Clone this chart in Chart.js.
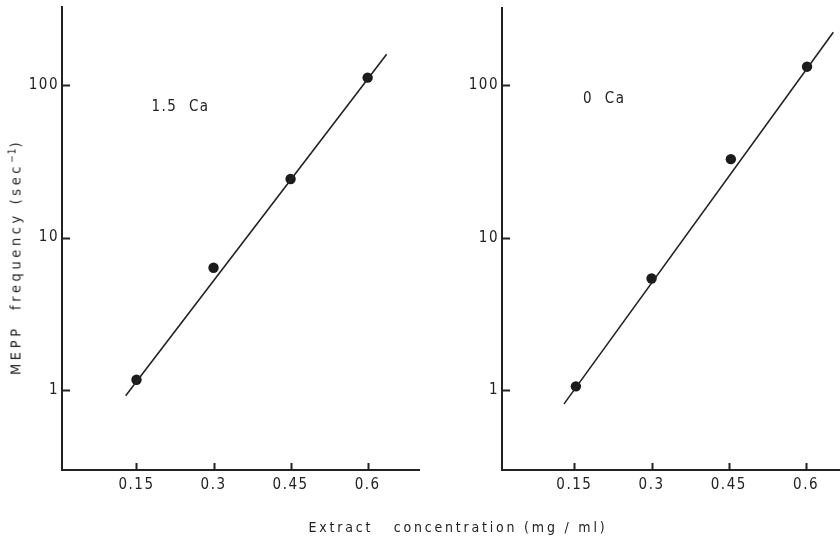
<!DOCTYPE html>
<html><head><meta charset="utf-8">
<script src="https://cdn.jsdelivr.net/npm/chart.js@4.4.1/dist/chart.umd.min.js"></script>
<style>
html,body{margin:0;padding:0;background:#fff;}
#wrap{position:relative;width:840px;height:538px;overflow:hidden;background:#fff;}
.panel{position:absolute;top:0;width:420px;height:538px;}
.ttl{position:absolute;white-space:pre;font-family:'DejaVu Sans Condensed','DejaVu Sans',sans-serif;font-size:14px;color:#222;}
#ytitle{left:14.5px;top:257px;transform:translate(-50%,-50%) rotate(-90deg);letter-spacing:3.6px;font-size:14.5px;}
#xtitle{left:458px;top:527px;transform:translate(-50%,-50%);letter-spacing:2.8px;}
sup{font-size:10px;vertical-align:5px;letter-spacing:1px;}
</style>
</head>
<body>
<div id="wrap">
  <div class="panel" style="left:0"><canvas id="c1" width="420" height="538"></canvas></div>
  <div class="panel" style="left:420px"><canvas id="c2" width="420" height="538"></canvas></div>
  <div id="ytitle" class="ttl">MEPP  frequency (sec<sup>−1</sup>)</div>
  <div id="xtitle" class="ttl">Extract   concentration (mg / ml)</div>
</div>
<script>
// ---- data ----
const xTicks = [0.15, 0.3, 0.45, 0.6];
const yTicks = [1, 10, 100];

const caHighX = [0.15, 0.3, 0.45, 0.6];
const caHighY = [1.17, 6.34, 24.2, 111.6];
const caHighFitX = [0.129, 0.637];
const caHighFitY = [0.92, 159];

const caZeroX = [0.153, 0.3, 0.454, 0.602];
const caZeroY = [1.06, 5.4, 32.7, 132];
const caZeroFitX = [0.130, 0.653];
const caZeroFitY = [0.814, 222];

const panelLabels = ['1.5  Ca', '0  Ca'];

// ---- drawing ----
const FONT = "'DejaVu Sans Condensed','DejaVu Sans',sans-serif";
const INK = '#222';

const spacingPlugin = {
  id: 'spacing',
  beforeLayout(chart) { chart.ctx.letterSpacing = '1.5px'; },
  beforeDraw(chart) { chart.ctx.letterSpacing = '1.5px'; },
  afterDraw(chart, args, opts) {
    const ctx = chart.ctx, xs = chart.scales.x, ys = chart.scales.y, ca = chart.chartArea;
    ctx.save();
    ctx.strokeStyle = INK;
    ctx.lineWidth = 2;
    ctx.beginPath();
    xTicks.forEach(v => {
      const px = Math.round(xs.getPixelForValue(v)) + 0.5;
      ctx.moveTo(px, ca.bottom);
      ctx.lineTo(px, ca.bottom - 7);
    });
    yTicks.forEach(v => {
      const py = Math.round(ys.getPixelForValue(v)) + 0.5;
      ctx.moveTo(ca.left, py);
      ctx.lineTo(ca.left + 8, py);
    });
    ctx.stroke();
    ctx.fillStyle = INK;
    ctx.font = '15px ' + FONT;
    ctx.letterSpacing = '1.5px';
    ctx.textAlign = 'left';
    ctx.textBaseline = 'middle';
    ctx.fillText(opts.text, xs.getPixelForValue(opts.at[0]), ys.getPixelForValue(opts.at[1]));
    ctx.restore();
  }
};

function noPad(s) { s.paddingTop = 0; s.paddingBottom = 0; s.paddingLeft = 0; s.paddingRight = 0; }

function makeChart(id, cfg) {
  return new Chart(document.getElementById(id), {
    type: 'scatter',
    data: {
      datasets: [
        {
          data: cfg.fitX.map((x, i) => ({x, y: cfg.fitY[i]})),
          showLine: true, borderColor: INK, borderWidth: 1.6, pointRadius: 0, fill: false
        },
        {
          data: cfg.px.map((x, i) => ({x, y: cfg.py[i]})),
          pointRadius: 5.2, backgroundColor: '#1b1b1b', borderColor: '#1b1b1b', borderWidth: 0, showLine: false
        }
      ]
    },
    plugins: [spacingPlugin],
    options: {
      responsive: false,
      animation: false,
      devicePixelRatio: 1,
      layout: { autoPadding: false, padding: { top: cfg.padTop, right: cfg.padRight, left: 0, bottom: 0 } },
      plugins: {
        legend: { display: false },
        tooltip: { enabled: false },
        spacing: { text: cfg.label, at: cfg.labelAt }
      },
      scales: {
        x: {
          type: 'linear', min: cfg.xmin, max: cfg.xmax,
          border: { display: true, color: INK, width: 2 },
          grid: { display: false, drawTicks: false, tickLength: 0 },
          ticks: { padding: 6, color: INK, font: { family: FONT, size: 15 }, autoSkip: false, maxRotation: 0,
                   callback: v => String(v) },
          afterBuildTicks: s => { s.ticks = xTicks.map(v => ({ value: v })); },
          afterFit: s => { s.height = 68; noPad(s); }
        },
        y: {
          type: 'logarithmic', min: cfg.ymin, max: cfg.ymax,
          border: { display: true, color: INK, width: 2 },
          grid: { display: false, drawTicks: false, tickLength: 0 },
          ticks: { padding: 3, color: INK, font: { family: FONT, size: 15 }, autoSkip: false,
                   callback: v => String(v) },
          afterBuildTicks: s => { s.ticks = yTicks.map(v => ({ value: v })); },
          afterFit: s => { s.width = cfg.yWidth; noPad(s); }
        }
      }
    }
  });
}

makeChart('c1', {
  px: caHighX, py: caHighY, fitX: caHighFitX, fitY: caHighFitY,
  xmin: 0.005, xmax: 0.70, ymin: 0.312, ymax: 324,
  yWidth: 62, padTop: 7, padRight: 1,
  label: panelLabels[0], labelAt: [0.179, 71.6]
});
makeChart('c2', {
  px: caZeroX, py: caZeroY, fitX: caZeroFitX, fitY: caZeroFitY,
  xmin: 0.0095, xmax: 0.666, ymin: 0.311, ymax: 320,
  yWidth: 82, padTop: 8, padRight: 0,
  label: panelLabels[1], labelAt: [0.167, 80.7]
});
</script>
</body></html>
